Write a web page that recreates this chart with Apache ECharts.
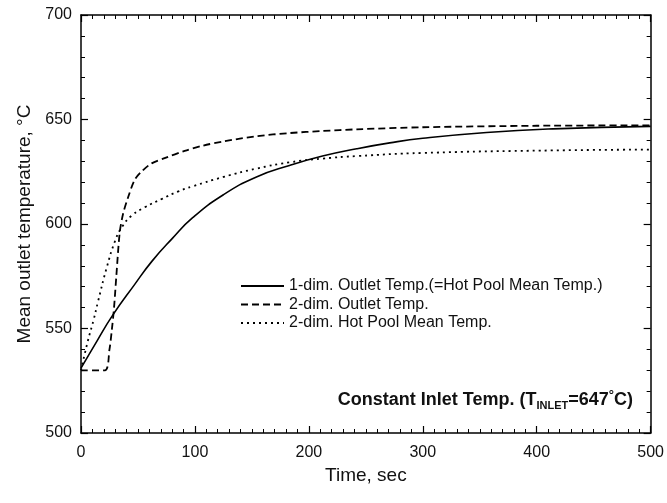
<!DOCTYPE html>
<html>
<head>
<meta charset="utf-8">
<script src="https://cdn.jsdelivr.net/npm/echarts@6/dist/echarts.min.js"></script>
<style>
  html, body { margin: 0; padding: 0; background: #fff; }
  #main { width: 667px; height: 503px; }
</style>
</head>
<body>
<div id="main"></div>
<script>
// 1-dim. Outlet Temp. (= Hot Pool Mean Temp.)
let oneDimTime = [0, 14, 28, 47, 62, 80, 98, 125, 154, 183, 212, 242, 271, 300, 356, 414, 500];
let oneDimTemp = [531, 544, 556.5, 571, 582, 593, 603, 614, 622.5, 628, 632.5, 636, 638.8, 641, 643.8, 645.5, 646.7];

// 2-dim. Outlet Temp.
let twoDimOutTime = [0, 21, 25, 27, 29, 31, 34, 37, 41.5, 47, 53, 62, 74, 91, 107, 125, 154, 183, 212, 242, 300, 400, 500];
let twoDimOutTemp = [530, 530, 540, 549, 560, 575, 596, 605, 613, 621, 625, 629, 631.6, 635, 637.5, 639.5, 642, 643.5, 644.5, 645.3, 646.3, 647, 647.2];

// 2-dim. Hot Pool Mean Temp.
let twoDimPoolTime = [0, 6, 11, 15, 22.5, 30, 36, 44.5, 56, 71, 85, 98, 125, 154, 183, 212, 242, 300, 414, 500];
let twoDimPoolTemp = [530, 544, 554, 563, 579, 592, 598.6, 604, 608, 612, 615.5, 618, 622.5, 626.5, 629.5, 631.3, 632.5, 634, 635.2, 635.6];

let seriesNames = ['1-dim. Outlet Temp.(=Hot Pool Mean Temp.)', '2-dim. Outlet Temp.', '2-dim. Hot Pool Mean Temp.'];

function pairs(xs, ys) {
    return xs.map((x, i) => [x, ys[i]]);
}

let myChart = echarts.init(document.getElementById('main'));
let font = 'Liberation Sans, Arial, sans-serif';

// 坐标轴公共样式
function makeAxis(extra) {
    let axis = {
        type: 'value',
        axisLine: { show: true, onZero: false, lineStyle: { color: '#000', width: 1.5 } },
        axisTick: { show: true, inside: true, length: 7, lineStyle: { color: '#000', width: 1.2 } },
        minorTick: { show: true, length: 4, lineStyle: { color: '#000', width: 1 } },
        splitLine: { show: false },
        axisLabel: { color: '#111', fontFamily: font, fontSize: 16 }
    };
    return Object.assign(axis, extra);
}

let option = {
    animation: false,
    backgroundColor: '#fff',
    grid: { left: 81, right: 16, top: 15, bottom: 70 },
    legend: {
        orient: 'vertical',
        left: 235,
        top: 272,
        itemWidth: 43,
        itemHeight: 14,
        itemGap: 0.5,
        itemStyle: { opacity: 0 },
        textStyle: { color: '#111', fontFamily: font, fontSize: 16, lineHeight: 18 },
        data: seriesNames
    },
    xAxis: [
        makeAxis({
            min: 0, max: 500, interval: 100,
            position: 'bottom',
            minorTick: { show: true, splitNumber: 10, length: 4, lineStyle: { color: '#000', width: 1 } },
            axisLabel: { color: '#111', fontFamily: font, fontSize: 16, margin: 12 },
            name: 'Time, sec',
            nameLocation: 'middle',
            nameGap: 21,
            nameTextStyle: { color: '#111', fontFamily: font, fontSize: 19 }
        }),
        makeAxis({
            min: 0, max: 500, interval: 100,
            position: 'top',
            minorTick: { show: true, splitNumber: 10, length: 4, lineStyle: { color: '#000', width: 1 } },
            axisLabel: { show: false }
        })
    ],
    yAxis: [
        makeAxis({
            min: 500, max: 700, interval: 50,
            position: 'left',
            minorTick: { show: true, splitNumber: 5, length: 4, lineStyle: { color: '#000', width: 1 } },
            axisLabel: { color: '#111', fontFamily: font, fontSize: 16, margin: 9 },
            name: 'Mean outlet temperature, °C',
            nameLocation: 'middle',
            nameGap: 38,
            nameTextStyle: { color: '#111', fontFamily: font, fontSize: 19 }
        }),
        makeAxis({
            min: 500, max: 700, interval: 50,
            position: 'right',
            minorTick: { show: true, splitNumber: 5, length: 4, lineStyle: { color: '#000', width: 1 } },
            axisLabel: { show: false }
        })
    ],
    graphic: [
        {
            type: 'text',
            right: 34,
            top: 389,
            style: {
                text: '{b|Constant Inlet Temp. (T}{s|INLET}{b|=647}{sup|°}{b|C)}',
                rich: {
                    b: { fontFamily: font, fontSize: 18, fontWeight: 'bold', lineHeight: 24, fill: '#111', color: '#111' },
                    s: { fontFamily: font, fontSize: 11, fontWeight: 'bold', lineHeight: 14, padding: [10, 0, 0, 0], fill: '#111', color: '#111' },
                    sup: { fontFamily: font, fontSize: 13, fontWeight: 'bold', lineHeight: 14, padding: [0, 0, 10, 0], fill: '#111', color: '#111' }
                }
            }
        }
    ],
    series: [
        {
            name: seriesNames[0],
            type: 'line',
            smooth: 0.5,
            symbol: 'none',
            lineStyle: { color: '#000', width: 1.6, type: 'solid' },
            itemStyle: { color: '#000' },
            data: pairs(oneDimTime, oneDimTemp)
        },
        {
            name: seriesNames[1],
            type: 'line',
            smooth: 0.3,
            symbol: 'none',
            lineStyle: { color: '#000', width: 1.8, type: [7, 4] },
            itemStyle: { color: '#000' },
            data: pairs(twoDimOutTime, twoDimOutTemp)
        },
        {
            name: seriesNames[2],
            type: 'line',
            smooth: 0.5,
            symbol: 'none',
            lineStyle: { color: '#000', width: 1.8, type: [2, 4] },
            itemStyle: { color: '#000' },
            data: pairs(twoDimPoolTime, twoDimPoolTemp)
        }
    ]
};

myChart.setOption(option);
</script>
</body>
</html>
